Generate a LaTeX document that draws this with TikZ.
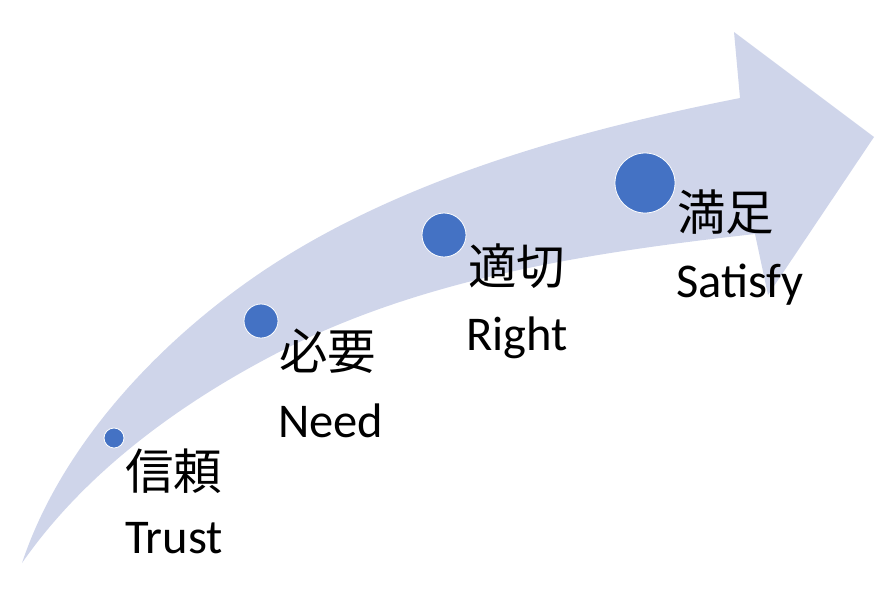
\documentclass[tikz,border=0pt]{standalone}
\usepackage{fontspec}
\setmainfont{Carlito}
\newfontfamily\cjk{Noto Sans CJK JP}
\definecolor{arrowfill}{HTML}{CFD5EA}
\definecolor{dotblue}{HTML}{4472C4}
\begin{document}
\begin{tikzpicture}[x=1pt,y=-1pt,
  dot/.style={circle,fill=dotblue,draw=white,line width=0.8pt,inner sep=0pt,minimum size=#1},
  jlabel/.style={anchor=west,inner sep=0pt,font=\cjk\fontsize{48.5}{52}\selectfont},
  elabel/.style={anchor=base west,inner sep=0pt,font=\fontsize{48.5}{52}\selectfont}]
\useasboundingbox (0,0) rectangle (886,606);
% curved arrow
\fill[arrowfill] (22,563)
  .. controls (60,449) and (152,349) .. (250,280)
  .. controls (389,182) and (573,131) .. (740,98)
  -- (734,32) -- (874,137) -- (768,295) -- (755,234)
  .. controls (594,252) and (427,277) .. (283,350)
  .. controls (183,401) and (86,471) .. (22,563)
  -- cycle;
% dots
\node[dot=20pt] (d1) at (114,438) {};
\node[dot=34pt] (d2) at (261,321) {};
\node[dot=44pt] (d3) at (444,235) {};
\node[dot=60pt] (d4) at (645,183) {};
% labels
\node[jlabel] (j1) at (125,471) {信頼};
\node[elabel] (e1) at (125,553) {Trust};
\node[jlabel] (j2) at (279,351) {必要};
\node[elabel] (e2) at (278,437) {Need};
\node[jlabel] (j3) at (468,266) {適切};
\node[elabel] (e3) at (466,350) {Right};
\node[jlabel] (j4) at (677,212) {満足};
\node[elabel] (e4) at (676,297) {Satisfy};
\end{tikzpicture}
\end{document}
